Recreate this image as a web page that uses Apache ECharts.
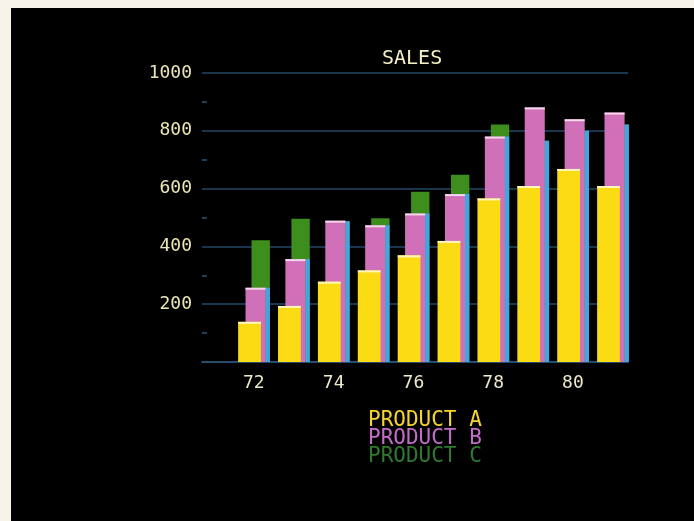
<!DOCTYPE html>
<html>
<head>
<meta charset="utf-8">
<title>SALES</title>
<script src="https://cdn.jsdelivr.net/npm/echarts@6/dist/echarts.min.js"></script>
<style>
  html, body { margin: 0; padding: 0; background: #f7f3ea; }
  #main { position: absolute; left: 11px; top: 8px; width: 683px; height: 513px; }
</style>
</head>
<body>
<div id="main"></div>
<script>
var years = [72, 73, 74, 75, 76, 77, 78, 79, 80, 81];
var yearLabels = [72, 74, 76, 78, 80];
var productA = [139, 194, 278, 317, 369, 419, 566, 609, 668, 609];
var productB = [257, 356, 489, 473, 514, 581, 780, 881, 840, 863];
var productC = [421, 496, 487, 497, 589, 648, 822, 766, 800, 822];

var font = 'DejaVu Sans Mono';
var chart = echarts.init(document.getElementById('main'));

// one bar per year, placed inside the year's band (fractions of one year)
function barRenderer(left, right, color, cap, strip) {
  return function (params, api) {
    var x = api.value(0);
    var p0 = api.coord([x, 0]);
    var p1 = api.coord([x, api.value(1)]);
    var band = api.size([1, 0])[0];
    var x0 = p0[0] + left * band;
    var x1 = p0[0] + right * band;
    var kids = [{
      type: 'rect',
      shape: { x: x0, y: p1[1], width: x1 - x0, height: p0[1] - p1[1] },
      style: { fill: color }
    }];
    if (cap) {
      kids.push({ type: 'rect', shape: { x: x0, y: p1[1], width: x1 - x0, height: 2 }, style: { fill: cap } });
    }
    if (strip) {
      // the part of C beside B shows up blue on the screen
      var h = Math.min(api.value(1), api.value(2));
      var ps = api.coord([x, h]);
      var sx = p0[0] + strip.from * band;
      kids.push({
        type: 'rect',
        shape: { x: sx, y: ps[1], width: x1 - sx, height: p0[1] - ps[1] },
        style: { fill: strip.color }
      });
    }
    return { type: 'group', children: kids };
  };
}

var option = {
  backgroundColor: '#000',
  animation: false,
  title: {
    text: 'SALES',
    left: 366,
    top: 36,
    textStyle: { color: '#f4efc4', fontFamily: font, fontSize: 20, fontWeight: 'normal' }
  },
  legend: {
    orient: 'vertical',
    left: 347,
    top: 397,
    itemWidth: 0,
    itemHeight: 0,
    itemGap: -3,
    selectedMode: false,
    itemStyle: { opacity: 0 },
    textStyle: { fontFamily: font, fontSize: 21 },
    data: [
      { name: 'PRODUCT A', textStyle: { color: '#f6d42a' } },
      { name: 'PRODUCT B', textStyle: { color: '#c46ccc' } },
      { name: 'PRODUCT C', textStyle: { color: '#2f7a2f' } }
    ]
  },
  grid: { left: 191, right: 66, top: 65, bottom: 159 },
  xAxis: {
    type: 'value',
    min: 70.7,
    max: 81.38,
    splitLine: { show: false },
    axisTick: { show: false },
    axisLine: { show: true, lineStyle: { color: '#2c5578', width: 1.5 } },
    axisLabel: {
      customValues: yearLabels,
      color: '#ece8c8',
      fontFamily: font,
      fontSize: 18,
      margin: 12
    }
  },
  yAxis: {
    type: 'value',
    min: 0,
    max: 1000,
    interval: 200,
    axisLine: { show: false },
    axisTick: { show: false, inside: true },
    minorTick: { show: true, splitNumber: 2, length: 5, lineStyle: { color: '#2c5578', width: 1.5 } },
    splitLine: { lineStyle: { color: '#23496a', width: 1.5 } },
    axisLabel: {
      color: '#ece6b4',
      fontFamily: font,
      fontSize: 18,
      margin: 10,
      formatter: function (v) { return v === 0 ? '' : String(v); }
    }
  },
  series: [
    {
      name: 'PRODUCT C',
      type: 'custom',
      z: 2,
      itemStyle: { color: '#2f7a2f' },
      encode: { x: 0, y: 1 },
      renderItem: barRenderer(-0.058, 0.402, '#3d8e1c', null, { from: 0.294, color: '#3fa6e6' }),
      data: years.map(function (y, i) { return [y, productC[i], productB[i]]; })
    },
    {
      name: 'PRODUCT B',
      type: 'custom',
      z: 3,
      itemStyle: { color: '#c46ccc' },
      encode: { x: 0, y: 1 },
      renderItem: barRenderer(-0.209, 0.294, '#d070b8', '#f3d6ea'),
      data: years.map(function (y, i) { return [y, productB[i]]; })
    },
    {
      name: 'PRODUCT A',
      type: 'custom',
      z: 4,
      itemStyle: { color: '#f6d42a' },
      encode: { x: 0, y: 1 },
      renderItem: barRenderer(-0.394, 0.176, '#fbdc14', '#fff6c0'),
      data: years.map(function (y, i) { return [y, productA[i]]; })
    }
  ]
};

chart.setOption(option);
</script>
</body>
</html>
